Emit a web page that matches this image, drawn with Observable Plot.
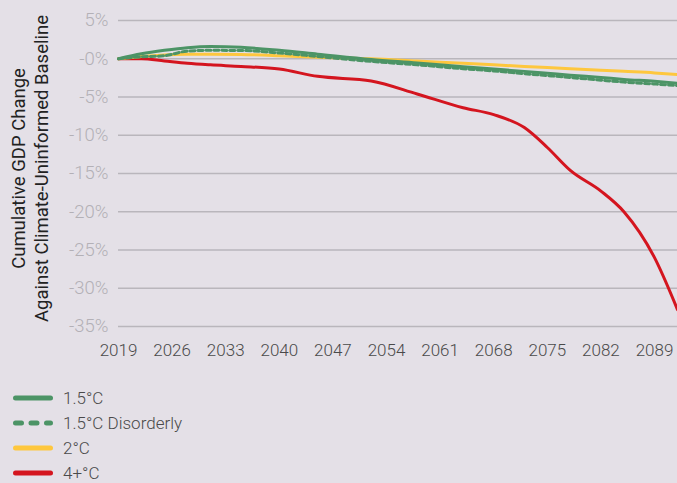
<!DOCTYPE html>
<html><head><meta charset="utf-8">
<script src="https://cdn.jsdelivr.net/npm/d3@7"></script>
<script src="https://cdn.jsdelivr.net/npm/@observablehq/plot@0.6"></script>
<style>
html,body{margin:0;padding:0;background:#e4e0e7;}
body{width:677px;height:483px;overflow:hidden;font-family:Roboto,sans-serif;}
#legend{padding:20px 0 0 13px;}
.item{height:25px;display:flex;align-items:center;font-size:17px;font-weight:300;color:#4a4a4a;}
.item svg{margin-right:10px;}
</style></head><body><div id="chart"></div><div id="legend"></div>
<script>
const years = [2019, 2022, 2025, 2028, 2031, 2035, 2040, 2045, 2052, 2058, 2064, 2068, 2072, 2075, 2078, 2082, 2085, 2089, 2092];
const seriesNames = ["1.5°C", "1.5°C Disorderly", "2°C", "4+°C"];
const green15 = [0, 0.65, 1.1, 1.45, 1.6, 1.5, 1.1, 0.6, -0.1, -0.55, -1.05, -1.35, -1.65, -1.9, -2.15, -2.45, -2.7, -2.95, -3.2];
const green15Disorderly = [0, 0.25, 0.4, 1.0, 1.1, 1.08, 0.75, 0.3, -0.35, -0.8, -1.3, -1.6, -1.95, -2.2, -2.45, -2.8, -3.05, -3.3, -3.5];
const yellow2 = [0, 0.3, 0.5, 0.58, 0.6, 0.56, 0.4, 0.2, 0.0, -0.3, -0.6, -0.8, -1.0, -1.15, -1.3, -1.5, -1.65, -1.85, -2.05];
const red4 = [0, 0, -0.3, -0.6, -0.8, -1.0, -1.35, -2.3, -2.9, -4.6, -6.4, -7.3, -9.0, -11.6, -14.6, -17.3, -20.0, -26.0, -32.8];
const xTicks = [2019, 2026, 2033, 2040, 2047, 2054, 2061, 2068, 2075, 2082, 2089];
const yTicks = [5, 0, -5, -10, -15, -20, -25, -30, -35];
const yTickLabels = ["5%", "-0%", "-5%", "-10%", "-15%", "-20%", "-25%", "-30%", "-35%"];
const yTitle = ["Cumulative GDP Change", "Against Climate-Uninformed Baseline"];
const colors = ["#4c9466", "#4c9466", "#fec73e", "#d4151f"];
const dashes = [null, "5 3", null, null];

const allValues = [green15, green15Disorderly, yellow2, red4];
const rows = (k) => years.map((y, i) => ({year: y, value: allValues[k][i], series: seriesNames[k]}));

const lineMarks = [3, 2, 1, 0].map(k => Plot.line(rows(k), {
  x: "year", y: "value", stroke: colors[k], strokeWidth: 3,
  strokeDasharray: dashes[k] || undefined, curve: "monotone-x"
}));

const chart = Plot.plot({
  width: 677, height: 365,
  marginLeft: 118, marginRight: 0, marginTop: 20, marginBottom: 39,
  style: {background: "transparent", fontFamily: "Roboto, sans-serif", fontSize: "17px", fontWeight: 300},
  x: {domain: [2019, 2092]},
  y: {domain: [-35, 5]},
  marks: [
    Plot.ruleY(yTicks, {stroke: "#b9b6bc", strokeWidth: 1.5}),
    Plot.axisX({ticks: xTicks, tickFormat: d => String(d), tickSize: 0, tickPadding: 17, label: null, fill: "#4a4a4a"}),
    Plot.axisY({ticks: yTicks, tickFormat: d => yTickLabels[yTicks.indexOf(d)], tickSize: 0, tickPadding: 10, label: null, fill: "#b3b0b6", fontSize: 18.5}),
    ...lineMarks,
    Plot.text([yTitle.join("\n")], {frameAnchor: "left", rotate: -90, dx: -89, dy: -5, textAnchor: "middle", lineAnchor: "middle", lineHeight: 1.24, fill: "#222", fontSize: 18.5, fontWeight: 400, text: d => d})
  ]
});
document.getElementById("chart").appendChild(chart);

const legend = document.getElementById("legend");
seriesNames.forEach((name, k) => {
  const item = document.createElement("div");
  item.className = "item";
  const dash = k === 1 ? ' stroke-dasharray="6 9.5"' : '';
  item.innerHTML = `<svg width="40" height="8"><line x1="2.5" y1="4" x2="37.5" y2="4" stroke="${colors[k]}" stroke-width="5" stroke-linecap="round"${dash}/></svg><span>${name}</span>`;
  legend.appendChild(item);
});
</script>
</body></html>
